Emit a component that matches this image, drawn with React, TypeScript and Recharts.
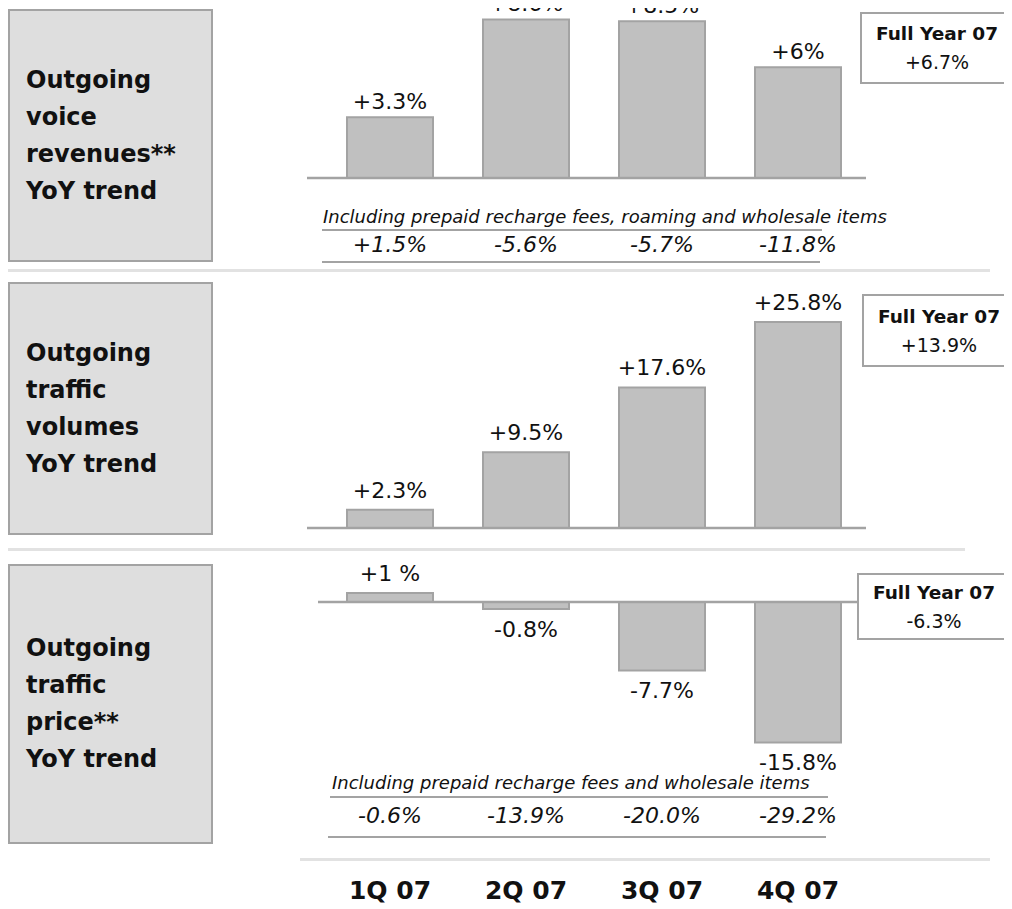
import React from 'react';
import {Bar, BarChart, LabelList, ReferenceLine, XAxis, YAxis} from 'recharts';

const quarters: string[] = ['1Q 07', '2Q 07', '3Q 07', '4Q 07'];

const voiceRevenue: number[] = [3.3, 8.6, 8.5, 6];
const voiceRevenueLabels: string[] = ['+3.3%', '+8.6%', '+8.5%', '+6%'];
const voiceRevenueIncl: string[] = ['+1.5%', '-5.6%', '-5.7%', '-11.8%'];

const trafficVolume: number[] = [2.3, 9.5, 17.6, 25.8];
const trafficVolumeLabels: string[] = ['+2.3%', '+9.5%', '+17.6%', '+25.8%'];

const trafficPrice: number[] = [1, -0.8, -7.7, -15.8];
const trafficPriceLabels: string[] = ['+1 %', '-0.8%', '-7.7%', '-15.8%'];
const trafficPriceIncl: string[] = ['-0.6%', '-13.9%', '-20.0%', '-29.2%'];

const fullYear: string[] = ['+6.7%', '+13.9%', '-6.3%'];
const panelTitles: string[][] = [
    ['Outgoing', 'voice', 'revenues**', 'YoY trend'],
    ['Outgoing', 'traffic', 'volumes', 'YoY trend'],
    ['Outgoing', 'traffic', 'price**', 'YoY trend'],
];

const FONT = '"DejaVu Sans", sans-serif';
const BAND_LEFT = 322;
const BAND_WIDTH = 136;

function rows(values: number[], labels: string[]) {
    return quarters.map((q, i) => ({quarter: q, value: values[i], label: labels[i]}));
}

type PanelProps = {
    data: {quarter: string, value: number, label: string}[];
    top: number;
    height: number;
    margin: {top: number, right: number, bottom: number, left: number};
    domain: [number, number];
    padLeft: number;
    labelOffset: number;
};

function TrendBars({data, top, height, margin, domain, padLeft, labelOffset}: PanelProps): React.JSX.Element {
    return (
        <div style={{position: 'absolute', left: 0, top}}>
            <BarChart width={1012} height={height} data={data} margin={margin} barCategoryGap={25}>
                <XAxis dataKey="quarter" hide padding={{left: padLeft, right: 0}}/>
                <YAxis hide type="number" domain={domain}/>
                <Bar dataKey="value" fill="#c0c0c0" stroke="#a3a3a3" strokeWidth={2} isAnimationActive={false}>
                    <LabelList dataKey="label" position="top" offset={labelOffset} fill="#111" fontSize={22} fontFamily={FONT}/>
                </Bar>
                <ReferenceLine y={0} stroke="#a3a3a3" strokeWidth={2.5}/>
            </BarChart>
        </div>
    );
}

function TitleBox({lines, top, height}: {lines: string[], top: number, height: number}) {
    return (
        <div style={{
            position: 'absolute', left: 8, top, width: 205, height,
            background: '#dedede', border: '2px solid #a3a3a3', boxSizing: 'border-box',
            display: 'flex', flexDirection: 'column', justifyContent: 'center', paddingLeft: 16,
        }}>
            {lines.map((l) => (
                <div key={l} style={{fontSize: 24, fontWeight: 'bold', lineHeight: '37px', color: '#111'}}>{l}</div>
            ))}
        </div>
    );
}

function FullYearBox({value, left, top, height}: {value: string, left: number, top: number, height: number}) {
    return (
        <div style={{
            position: 'absolute', left, top, width: 150, height, border: '2px solid #a3a3a3',
            background: '#fff', display: 'flex', flexDirection: 'column', justifyContent: 'center',
            alignItems: 'center', color: '#111',
        }}>
            <div style={{fontSize: 18.5, fontWeight: 'bold', lineHeight: '28px'}}>Full Year 07</div>
            <div style={{fontSize: 19, lineHeight: '28px'}}>{value}</div>
        </div>
    );
}

function Rule({x1, x2, y, color, width}: {x1: number, x2: number, y: number, color: string, width: number}) {
    return <div style={{position: 'absolute', left: x1, top: y - width / 2, width: x2 - x1, height: width, background: color}}/>;
}

function TextRow({items, y, style}: {items: string[], y: number, style: React.CSSProperties}) {
    return (
        <div style={{position: 'absolute', left: BAND_LEFT, top: y - 15, height: 30, display: 'flex'}}>
            {items.map((t, i) => (
                <div key={i} style={{width: BAND_WIDTH, textAlign: 'center', lineHeight: '30px', color: '#111', ...style}}>{t}</div>
            ))}
        </div>
    );
}

function Note({text, left, y}: {text: string, left: number, y: number}) {
    return (
        <div style={{position: 'absolute', left, top: y - 12, lineHeight: '24px', fontSize: 18, fontStyle: 'italic', color: '#111', whiteSpace: 'nowrap'}}>
            {text}
        </div>
    );
}

export default function App(): React.JSX.Element {
    const rowStyle: React.CSSProperties = {fontSize: 22, fontStyle: 'italic'};
    return (
        <div style={{position: 'relative', width: 1012, height: 909, margin: '-8px 0 0 -8px', overflow: 'hidden', background: '#fff', fontFamily: FONT}}>
            {/* separators between the three panels */}
            <Rule x1={0} x2={990} y={270} color="#e2e2e2" width={3}/>
            <Rule x1={0} x2={965} y={549} color="#e2e2e2" width={3}/>
            <Rule x1={300} x2={990} y={859} color="#e2e2e2" width={3}/>

            <TitleBox lines={panelTitles[0]} top={9} height={253}/>
            <TitleBox lines={panelTitles[1]} top={282} height={253}/>
            <TitleBox lines={panelTitles[2]} top={564} height={280}/>

            <TrendBars data={rows(voiceRevenue, voiceRevenueLabels)} top={0} height={180} labelOffset={8}
                       margin={{top: 12, right: 146, bottom: 2, left: 307}} domain={[0, 9]} padLeft={15}/>
            <TrendBars data={rows(trafficVolume, trafficVolumeLabels)} top={280} height={250} labelOffset={12}
                       margin={{top: 40.4, right: 146, bottom: 2, left: 307}} domain={[0, 26]} padLeft={15}/>
            <TrendBars data={rows(trafficPrice, trafficPriceLabels)} top={550} height={240} labelOffset={12}
                       margin={{top: 25.3, right: 146, bottom: 45.6, left: 318}} domain={[-16, 3]} padLeft={4}/>

            {/* voice revenues incl. recharge fees */}
            <Note text="Including prepaid recharge fees, roaming and wholesale items" left={323} y={217}/>
            <Rule x1={322} x2={822} y={230} color="#a3a3a3" width={2}/>
            <TextRow items={voiceRevenueIncl} y={245} style={rowStyle}/>
            <Rule x1={322} x2={820} y={262} color="#a3a3a3" width={2}/>

            {/* traffic price incl. recharge fees */}
            <Note text="Including prepaid recharge fees and wholesale items" left={332} y={783}/>
            <Rule x1={330} x2={828} y={797} color="#a3a3a3" width={2}/>
            <TextRow items={trafficPriceIncl} y={816} style={rowStyle}/>
            <Rule x1={328} x2={826} y={837} color="#a3a3a3" width={2}/>

            <TextRow items={quarters} y={891} style={{fontSize: 25, fontWeight: 'bold'}}/>

            <FullYearBox value={fullYear[0]} left={860} top={12} height={68}/>
            <FullYearBox value={fullYear[1]} left={862} top={294} height={69}/>
            <FullYearBox value={fullYear[2]} left={857} top={573} height={63}/>
        </div>
    );
}
